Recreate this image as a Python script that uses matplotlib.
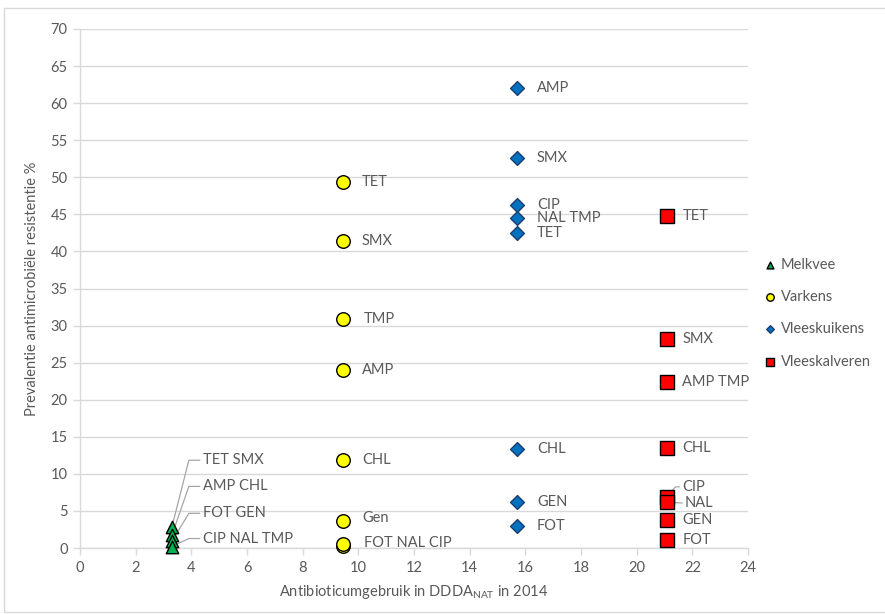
import math
import matplotlib
matplotlib.use("Agg")
import matplotlib.pyplot as plt
from matplotlib.patches import Rectangle

plt.rcParams['font.family'] = ['Lato', 'DejaVu Sans']

# ---- data ----
series_names = ["Melkvee", "Varkens", "Vleeskuikens", "Vleeskalveren"]
usage = [3.3, 9.45, 15.7, 21.1]  # DDDA_NAT 2014

melkvee_labels = ["TET SMX", "AMP CHL", "FOT GEN", "CIP NAL TMP"]
melkvee_values = [2.8, 1.7, 0.9, 0.2]

varkens_labels = ["TET", "SMX", "TMP", "AMP", "CHL", "Gen", "FOT NAL CIP", ""]
varkens_values = [49.4, 41.4, 30.9, 24.0, 11.9, 3.6, 0.3, 0.6]

kuikens_labels = ["AMP", "SMX", "CIP", "NAL TMP", "TET", "CHL", "GEN", "FOT"]
kuikens_values = [62.0, 52.6, 46.3, 44.5, 42.5, 13.35, 6.2, 2.9]

kalveren_labels = ["TET", "SMX", "AMP TMP", "CHL", "CIP", "NAL", "GEN", "FOT"]
kalveren_values = [44.8, 28.2, 22.4, 13.5, 6.9, 6.2, 3.8, 1.1]

y_ticks = list(range(0, 71, 5))
x_ticks = list(range(0, 25, 2))

# ---- styles ----
W, H = 885, 614
fig = plt.figure(figsize=(W / 100, H / 100), dpi=100)
ax = fig.add_axes([80 / W, 1 - 548 / H, (748 - 80) / W, (548 - 29) / H])

txt_col = "#595959"
grid_col = "#d9d9d9"
lead_col = "#a6a6a6"
fs = 10.5

styles = {
    "Melkvee": dict(marker="^", color="#00b050", edge="#000000", s=80),
    "Varkens": dict(marker="o", color="#ffff00", edge="#000000", s=95),
    "Vleeskuikens": dict(marker="D", color="#0070c0", edge="#1f3f6f", s=50),
    "Vleeskalveren": dict(marker="s", color="#ff0000", edge="#000000", s=95),
}

all_vals = [melkvee_values, varkens_values, kuikens_values, kalveren_values]

handles = []
for name, xv, vals in zip(series_names, usage, all_vals):
    st = styles[name]
    h = ax.scatter([xv] * len(vals), vals, marker=st["marker"], s=st["s"],
                   facecolor=st["color"], edgecolor=st["edge"], linewidth=1.0,
                   zorder=3, label=name, clip_on=False)
    handles.append(h)

# label offsets in pixels (dx, dy)
label_layout = {
    "Melkvee": {"TET SMX": (31, 67), "AMP CHL": (31, 49), "FOT GEN": (31, 28),
                "CIP NAL TMP": (31, 8)},
    "Varkens": {"TMP": (21, 0), "FOT NAL CIP": (21, 3), "Gen": (19, 3)},
    "Kalveren": {"CIP": (15, 10), "NAL": (17, -1)},
}


def put_label(xv, v, text, dx, dy, leader=None):
    if not text:
        return
    ax.annotate(text, xy=(xv, v), xytext=(dx, dy), textcoords="offset pixels",
                ha="left", va="center", fontsize=fs, color=txt_col, zorder=4,
                annotation_clip=False)
    if leader is not None:
        ax.annotate("", xy=(xv, v), xytext=(dx - 3, dy), textcoords="offset pixels",
                    arrowprops=dict(arrowstyle="-", color=lead_col, lw=0.9,
                                    shrinkA=0, shrinkB=4,
                                    connectionstyle="angle,angleA=0,angleB=%f" % leader),
                    zorder=2, annotation_clip=False)


for lab, v in zip(melkvee_labels, melkvee_values):
    dx, dy = label_layout["Melkvee"][lab]
    ang = math.degrees(math.atan2(dy, dx - 14))
    put_label(usage[0], v, lab, dx, dy, leader=ang)

for lab, v in zip(varkens_labels, varkens_values):
    dx, dy = label_layout["Varkens"].get(lab, (19, 0))
    put_label(usage[1], v, lab, dx, dy)

for lab, v in zip(kuikens_labels, kuikens_values):
    put_label(usage[2], v, lab, 20, 0)

for lab, v in zip(kalveren_labels, kalveren_values):
    if lab in label_layout["Kalveren"]:
        dx, dy = label_layout["Kalveren"][lab]
        if lab == "CIP":
            put_label(usage[3], v, lab, dx, dy, leader=math.degrees(math.atan2(dy, dx - 7)))
        else:
            put_label(usage[3], v, lab, dx, dy)
            ax.annotate("", xy=(usage[3], v), xytext=(dx - 2, dy), textcoords="offset pixels",
                        arrowprops=dict(arrowstyle="-", color=lead_col, lw=0.9,
                                        shrinkA=0, shrinkB=4), zorder=2)
    else:
        put_label(usage[3], v, lab, 15, 0)

# axes
ax.set_xlim(0, 24)
ax.set_ylim(0, 70)
ax.set_xticks(x_ticks)
ax.set_yticks(y_ticks)
ax.tick_params(axis="both", colors=grid_col, labelcolor=txt_col, labelsize=fs,
               length=5, width=1)
ax.tick_params(axis="y", pad=4)
ax.tick_params(axis="x", pad=4)
ax.yaxis.grid(True, color=grid_col, linewidth=1)
ax.set_axisbelow(True)
for sp in ["top", "right"]:
    ax.spines[sp].set_visible(False)
for sp in ["left", "bottom"]:
    ax.spines[sp].set_color(grid_col)
    ax.spines[sp].set_linewidth(1)

ax.set_ylabel("Prevalentie antimicrobiële resistentie %", fontsize=fs, color=txt_col,
              labelpad=8)
ax.set_xlabel(r"Antibioticumgebruik in DDDA$_{\mathregular{NAT}}$ in 2014", fontsize=fs,
              color=txt_col, labelpad=6)

leg = fig.legend(handles=handles, loc="upper left", bbox_to_anchor=(753 / W, 1 - 252 / H),
                 frameon=False, fontsize=fs, markerscale=0.55, handletextpad=0.0,
                 labelspacing=1.25, borderaxespad=0, handlelength=1.5)
for t in leg.get_texts():
    t.set_color(txt_col)

fig.patches.append(Rectangle((4 / W, 2 / H), 1.0, 1 - 10 / H, transform=fig.transFigure,
                             fill=False, edgecolor="#d9d9d9", linewidth=1))

fig.savefig("out.png", dpi=100)
